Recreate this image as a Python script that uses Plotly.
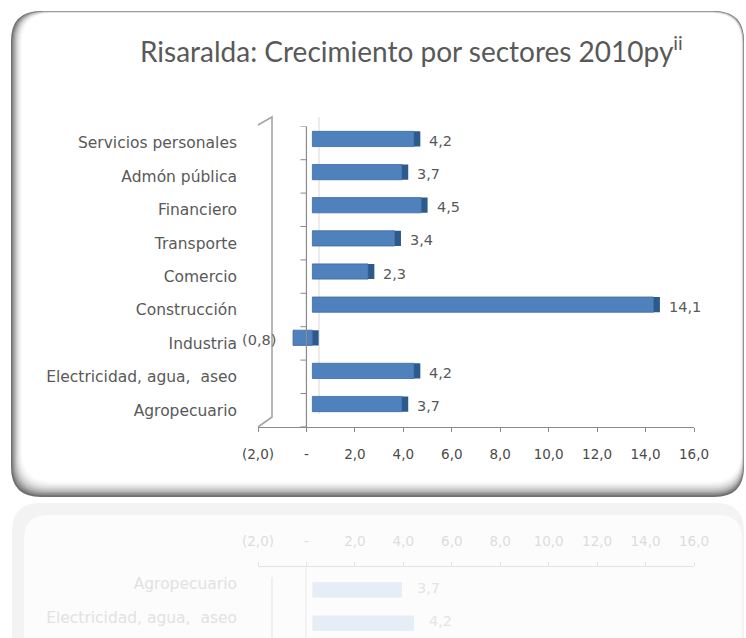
import plotly.graph_objects as go

W, H = 746, 638

# Sectors listed bottom-to-top, with their 2010 growth (%)
sectores = ["Agropecuario", "Electricidad, agua,\u00a0 aseo", "Industria", "Construcción",
            "Comercio", "Transporte", "Financiero", "Admón pública", "Servicios personales"]
crecimiento = [3.7, 4.2, -0.8, 14.1, 2.3, 3.4, 4.5, 3.7, 4.2]
x_ticks = [-2, 0, 2, 4, 6, 8, 10, 12, 14, 16]
titulo = "Risaralda: Crecimiento por sectores 2010py"
nota = "ii"


def fmt(v):
    """Spanish accounting style: comma decimals, negatives in parentheses, zero as '-'."""
    if v == 0:
        return "-"
    s = f"{abs(v):.1f}".replace(".", ",")
    return f"({s})" if v < 0 else s


def px(x):
    return x / W


def py(y):
    return 1 - y / H


def rrect(x0, y0, x1, y1, r):
    """Rounded rectangle path in paper units from pixel corners."""
    pts = [
        ("M", (x0 + r, y0)), ("L", (x1 - r, y0)), ("Q", (x1, y0), (x1, y0 + r)),
        ("L", (x1, y1 - r)), ("Q", (x1, y1), (x1 - r, y1)), ("L", (x0 + r, y1)),
        ("Q", (x0, y1), (x0, y1 - r)), ("L", (x0, y0 + r)), ("Q", (x0, y0), (x0 + r, y0)),
    ]
    out = []
    for cmd, *cs in pts:
        out.append(cmd + " " + " ".join(f"{px(a):.5f},{py(b):.5f}" for a, b in cs))
    return " ".join(out) + " Z"


n = len(sectores)
cap = 0.26  # depth face at the right end of each bar, in axis units
GRAY = "#595959"
LINE = "#8a8a8a"
FONT = "DejaVu Sans"

fig = go.Figure()

# anchors for the label axes
fig.add_trace(go.Scatter(x=[None], y=[None], xaxis="x", yaxis="y", showlegend=False, hoverinfo="skip"))
fig.add_trace(go.Scatter(x=[None], y=[None], xaxis="x4", yaxis="y4", showlegend=False, hoverinfo="skip"))

# main bars + dark end face
fig.add_trace(go.Bar(x=crecimiento, y=sectores, orientation="h", xaxis="x2", yaxis="y2",
                     width=0.46, marker=dict(color="#4f81bd", line=dict(color="#3a6a9f", width=0.8)),
                     hoverinfo="skip"))
fig.add_trace(go.Bar(x=[cap] * n, y=sectores, base=[max(v, 0) for v in crecimiento],
                     orientation="h", xaxis="x2", yaxis="y2", width=0.46,
                     marker=dict(color="#2d5a8c", line=dict(width=0)), hoverinfo="skip"))

# faint mirrored copy under the card
fig.add_trace(go.Bar(x=crecimiento, y=sectores, orientation="h", xaxis="x5", yaxis="y5",
                     width=0.46, marker=dict(color="#e6edf6", line=dict(width=0)), hoverinfo="skip"))

shapes = []
# card bevel: dark outer rim fading to white inside
rims = ["#6f6f6f", "#8a8a8a", "#a2a2a2", "#b8b8b8", "#cbcbcb", "#dbdbdb", "#e8e8e8", "#f2f2f2", "#f9f9f9", "#ffffff"]
for k, c in enumerate(rims):
    shapes.append(dict(type="path", xref="paper", yref="paper", layer="below",
                       path=rrect(11 + 1.2 * k, 11 + 0.25 * k, 744 - 0.3 * k, 497 - 1.7 * k, 30),
                       fillcolor=c, line=dict(width=0)))
# reflection of the card
shapes.append(dict(type="path", xref="paper", yref="paper", layer="below",
                   path=rrect(12, 503, 744, 700, 28), fillcolor="#f3f3f3", line=dict(width=0)))
shapes.append(dict(type="path", xref="paper", yref="paper", layer="below",
                   path=rrect(24, 515, 742, 700, 24), fillcolor="#fcfcfc", line=dict(width=0)))

# side wall edge of the 3-D plot area
wall = f"M {px(258)},{py(125)} L {px(272)},{py(117)} L {px(272)},{py(417)} L {px(258)},{py(427)}"
shapes.append(dict(type="path", xref="paper", yref="paper", path=wall,
                   line=dict(color="#a6a6a6", width=1.6)))
shapes.append(dict(type="line", xref="paper", yref="paper", layer="below",
                   x0=px(319), x1=px(319), y0=py(117), y1=py(414),
                   line=dict(color="#d9d9d9", width=1)))
# reflected wall edges
shapes.append(dict(type="line", xref="paper", yref="paper", x0=px(272), x1=px(272),
                   y0=py(577), y1=py(640), line=dict(color="#ececec", width=1.6)))
shapes.append(dict(type="line", xref="paper", yref="paper", x0=px(306), x1=px(306),
                   y0=py(567), y1=py(640), line=dict(color="#e8e8e8", width=1)))

# vertical category axis at zero with boundary ticks
shapes.append(dict(type="line", xref="x", yref="y", x0=0, x1=0, y0=-0.5, y1=n - 0.5,
                   line=dict(color=LINE, width=1.2)))
for i in range(n + 1):
    shapes.append(dict(type="line", xref="x", yref="y", xsizemode="pixel", xanchor=0,
                       x0=-6, x1=0, y0=i - 0.5, y1=i - 0.5, line=dict(color=LINE, width=1)))

annotations = [dict(xref="paper", yref="paper", x=px(411), y=py(50), xanchor="center",
                    yanchor="middle", showarrow=False,
                    text=f"{titulo}<sup>{nota}</sup>",
                    font=dict(family="Lato", size=28, color=GRAY))]
for idx, (s, v) in enumerate(zip(sectores, crecimiento)):
    pos = v >= 0
    annotations.append(dict(xref="x2", yref="y2", x=(v + cap) if pos else v, y=s,
                            xanchor="left" if pos else "right", xshift=7 if pos else -15,
                            yshift=-2, showarrow=False, text=fmt(v),
                            font=dict(family=FONT, size=14.5, color=GRAY)))
    if idx < 2:
        annotations.append(dict(xref="x5", yref="y5", x=(v + cap) if pos else v, y=s,
                                xanchor="left", xshift=7, yshift=2, showarrow=False, text=fmt(v),
                                font=dict(family=FONT, size=14.5, color="#e4e4e4")))

tick_text = [fmt(t) for t in x_ticks]

fig.update_layout(
    template="none",
    width=W, height=H, margin=dict(l=0, r=0, t=0, b=0, pad=0), autosize=False,
    paper_bgcolor="white", plot_bgcolor="rgba(0,0,0,0)",
    showlegend=False, barmode="overlay",
    shapes=shapes, annotations=annotations,
    xaxis=dict(domain=[px(258), px(694)], range=[-2, 16], anchor="y", automargin=False,
               tickvals=x_ticks, ticktext=tick_text, showline=True, linecolor=LINE,
               linewidth=1.2, ticks="outside", ticklen=4, tickcolor=LINE,
               showgrid=False, zeroline=False, ticklabelstandoff=11,
               tickfont=dict(family=FONT, size=13.5, color="#4a4a4a")),
    yaxis=dict(domain=[py(426.9), py(126.3)], range=[-0.5, n - 0.5], anchor="x", automargin=False,
               tickvals=list(range(n)), ticktext=sectores, showline=False, ticks="",
               showgrid=False, zeroline=False, ticklabelstandoff=20,
               tickfont=dict(family=FONT, size=15.5, color=GRAY)),
    xaxis2=dict(domain=[px(264), px(699.6)], range=[-2, 16], anchor="y2", visible=False,
                automargin=False),
    yaxis2=dict(domain=[py(420.6), py(122.4)], range=[-0.5, n - 0.5], anchor="x2",
                type="category", categoryorder="array", categoryarray=sectores, visible=False,
                automargin=False),
    xaxis4=dict(domain=[px(258), px(694)], range=[-2, 16], anchor="y4", side="top",
                automargin=False,
                tickvals=x_ticks, ticktext=tick_text, showline=True, linecolor="#e4e4e4",
                linewidth=1.2, ticks="outside", ticklen=4, tickcolor="#e4e4e4",
                showgrid=False, zeroline=False, ticklabelstandoff=11,
                tickfont=dict(family=FONT, size=13.5, color="#dcdcdc")),
    yaxis4=dict(domain=[0, py(567)], range=[-0.5 + 71 / 33.4, -0.5], anchor="x4",
                automargin=False,
                tickvals=list(range(n)), ticktext=sectores, showline=False, ticks="",
                showgrid=False, zeroline=False, ticklabelstandoff=20,
                tickfont=dict(family=FONT, size=15.5, color="#e2e2e2")),
    xaxis5=dict(domain=[px(264), px(699.6)], range=[-2, 16], anchor="y5", visible=False,
                automargin=False),
    yaxis5=dict(domain=[0, py(573.4)], range=[-0.5 + 64.6 / 33.125, -0.5], anchor="x5",
                type="category", categoryorder="array", categoryarray=sectores, visible=False,
                automargin=False),
)

fig.write_html("out.html")
